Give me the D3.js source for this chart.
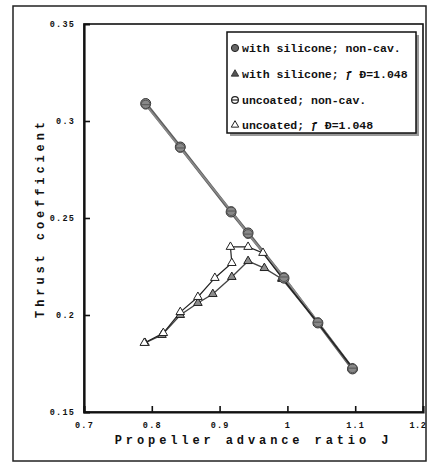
<!DOCTYPE html>
<html>
<head>
<meta charset="utf-8">
<script src="https://cdn.jsdelivr.net/npm/d3@7"></script>
<style>
  body { margin: 0; background: #fff; }
  svg { display: block; }
  text { font-family: "Liberation Mono", "Courier New", monospace; font-weight: bold; fill: #111; }
</style>
</head>
<body>
<div id="chart"></div>
<script>
// advance ratio J for non-cavitating runs
const jNonCav = [0.791, 0.842, 0.917, 0.942, 0.995, 1.045, 1.096];
const ctSiliconeNonCav = [0.309, 0.2866, 0.2531, 0.2423, 0.219, 0.1959, 0.1722];
const ctUncoatedNonCav = [0.3084, 0.2861, 0.2536, 0.2417, 0.2196, 0.1963, 0.1726];

// cavitating runs
const jSiliconeCav = [0.790, 0.815, 0.842, 0.868, 0.890, 0.918, 0.942, 0.966, 0.992, 1.045, 1.096];
const ctSiliconeCav = [0.1856, 0.1897, 0.2000, 0.2062, 0.2108, 0.2196, 0.2278, 0.2242, 0.2186, 0.1959, 0.1727];
const jUncoatedCav = [0.789, 0.817, 0.842, 0.868, 0.893, 0.918, 0.916, 0.942, 0.964, 0.992, 1.045, 1.096];
const ctUncoatedCav = [0.1856, 0.1907, 0.2015, 0.2093, 0.2191, 0.2268, 0.2351, 0.2351, 0.2320, 0.2191, 0.1959, 0.1727];

const xTicks = [0.7, 0.8, 0.9, 1, 1.1, 1.2];
const yTicks = [0.15, 0.2, 0.25, 0.3, 0.35];
const legendLabels = [
  "with silicone; non-cav.",
  "with silicone; \u0192 \u00D0=1.048",
  "uncoated; non-cav.",
  "uncoated; \u0192 \u00D0=1.048"
];

const width = 430, height = 464;
const margin = { top: 24, right: 7, bottom: 52, left: 84 };

const svg = d3.select("#chart").append("svg")
  .attr("width", width)
  .attr("height", height);

// outer frame
svg.append("rect")
  .attr("x", 13).attr("y", 6)
  .attr("width", 413).attr("height", 455)
  .attr("fill", "none")
  .attr("stroke", "#222")
  .attr("stroke-width", 1.5);

const x = d3.scaleLinear().domain([0.7, 1.2]).range([margin.left, width - margin.right]);
const y = d3.scaleLinear().domain([0.15, 0.35]).range([height - margin.bottom, margin.top]);

// plot box
svg.append("rect")
  .attr("x", x(0.7)).attr("y", y(0.35))
  .attr("width", x(1.2) - x(0.7)).attr("height", y(0.15) - y(0.35))
  .attr("fill", "none")
  .attr("stroke", "#111")
  .attr("stroke-width", 1.6);

const xAxis = svg.append("g")
  .attr("transform", `translate(0,${y(0.15)})`)
  .call(d3.axisBottom(x).tickValues(xTicks).tickSize(-6).tickPadding(10).tickFormat(d3.format("")));
const yAxis = svg.append("g")
  .attr("transform", `translate(${x(0.7)},0)`)
  .call(d3.axisLeft(y).tickValues(yTicks).tickSize(-6).tickPadding(9).tickFormat(d3.format("")));

[xAxis, yAxis].forEach(g => {
  g.select(".domain").attr("stroke", "#111").attr("stroke-width", 2.2);
  g.selectAll(".tick line").attr("stroke", "#111").attr("stroke-width", 1.6);
  g.selectAll(".tick text")
    .style("font-family", '"Liberation Mono", monospace')
    .style("font-weight", "bold")
    .style("font-size", "8.5px")
    .style("letter-spacing", "1.2px")
    .attr("fill", "#111");
});
xAxis.selectAll(".tick line").filter(d => d === 0.7 || d === 1.2).remove();
yAxis.selectAll(".tick line").filter(d => d === 0.15 || d === 0.35).remove();
// last x label sits at the page edge, keep it inside
xAxis.selectAll(".tick text").filter(d => d === 1.2)
  .attr("text-anchor", "end").attr("dx", "3").style("letter-spacing", "0.6px");

// axis titles
svg.append("text")
  .attr("x", (x(0.7) + x(1.2)) / 2)
  .attr("y", 444)
  .attr("text-anchor", "middle")
  .style("font-size", "12px")
  .style("letter-spacing", "3.9px")
  .text("Propeller advance ratio J");

svg.append("text")
  .attr("transform", `translate(44,${(y(0.15) + y(0.35)) / 2}) rotate(-90)`)
  .attr("text-anchor", "middle")
  .style("font-size", "12px")
  .style("letter-spacing", "3.9px")
  .text("Thrust coefficient");

const line = d3.line().x(d => x(d[0])).y(d => y(d[1]));
const pairs = (a, b) => a.map((v, i) => [v, b[i]]);

const silNon = pairs(jNonCav, ctSiliconeNonCav);
const uncNon = pairs(jNonCav, ctUncoatedNonCav);
const silCav = pairs(jSiliconeCav, ctSiliconeCav);
const uncCav = pairs(jUncoatedCav, ctUncoatedCav);

// lines
svg.append("path").datum(silNon).attr("d", line)
  .attr("fill", "none").attr("stroke", "#5e5e5e").attr("stroke-width", 3);
svg.append("path").datum(uncNon).attr("d", line)
  .attr("fill", "none").attr("stroke", "#888").attr("stroke-width", 1.8);
svg.append("path").datum(silCav).attr("d", line)
  .attr("fill", "none").attr("stroke", "#444").attr("stroke-width", 1.4);
svg.append("path").datum(uncCav).attr("d", line)
  .attr("fill", "none").attr("stroke", "#222").attr("stroke-width", 1.2);

const tri = d3.symbol().type(d3.symbolTriangle);

function drawTriangles(data, fill, size) {
  svg.append("g").selectAll("path")
    .data(data)
    .join("path")
    .attr("transform", d => `translate(${x(d[0])},${y(d[1])})`)
    .attr("d", tri.size(size)())
    .attr("fill", fill)
    .attr("stroke", "#222")
    .attr("stroke-width", 1);
}
drawTriangles(silCav, "#8c8c8c", 32);
drawTriangles(uncCav, "#fff", 32);

// circles
svg.append("g").selectAll("circle")
  .data(silNon)
  .join("circle")
  .attr("cx", d => x(d[0])).attr("cy", d => y(d[1]))
  .attr("r", 5)
  .attr("fill", "#888").attr("stroke", "#333").attr("stroke-width", 1);
svg.append("g").selectAll("g")
  .data(uncNon)
  .join("g")
  .attr("transform", d => `translate(${x(d[0])},${y(d[1])})`)
  .call(g => g.append("circle").attr("r", 4.5).attr("fill", "none").attr("stroke", "#555").attr("stroke-width", 1))
  .call(g => g.append("line").attr("x1", -4.5).attr("x2", 4.5).attr("stroke", "#555").attr("stroke-width", 1));

// legend
const legend = svg.append("g").attr("transform", "translate(227,32)");
legend.append("rect")
  .attr("x", 3).attr("y", 3).attr("width", 189).attr("height", 101)
  .attr("fill", "#999");
legend.append("rect")
  .attr("width", 189).attr("height", 101)
  .attr("fill", "#fff").attr("stroke", "#111").attr("stroke-width", 1.5);

const rowY = [16, 42, 68, 93];
legendLabels.forEach((label, i) => {
  const g = legend.append("g").attr("transform", `translate(8,${rowY[i]})`);
  if (i === 0) {
    g.append("circle").attr("r", 3.6).attr("fill", "#666").attr("stroke", "#222");
  } else if (i === 1) {
    g.append("path").attr("d", tri.size(24)()).attr("fill", "#555").attr("stroke", "#222").attr("stroke-width", 0.8);
  } else if (i === 2) {
    g.append("circle").attr("r", 3.4).attr("fill", "#fff").attr("stroke", "#222").attr("stroke-width", 1.2);
    g.append("line").attr("x1", -3.4).attr("x2", 3.4).attr("stroke", "#222").attr("stroke-width", 1.2);
  } else {
    g.append("path").attr("d", tri.size(24)()).attr("fill", "#fff").attr("stroke", "#222").attr("stroke-width", 1);
  }
  g.append("text")
    .attr("x", 7)
    .attr("y", 4)
    .style("font-size", "11.5px")
    .text(label);
});
</script>
</body>
</html>
